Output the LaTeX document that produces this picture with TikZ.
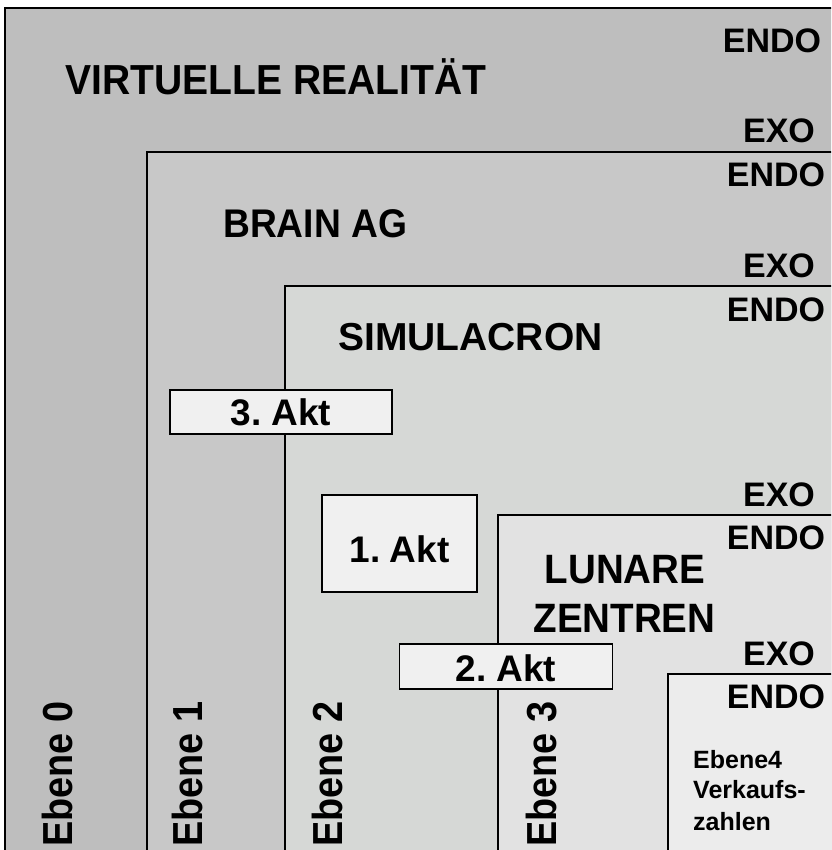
\documentclass[tikz,border=0pt]{standalone}
\usepackage{fontspec}
\setmainfont{Liberation Sans}[WordSpace=0.6]
\newfontfamily\nsA{Liberation Sans}[FakeStretch=0.93]
\newfontfamily\nsB{Liberation Sans}[FakeStretch=0.94]
\newfontfamily\nsC{Liberation Sans}[FakeStretch=0.90]
\definecolor{lvA}{HTML}{BEBEBE}
\definecolor{lvB}{HTML}{C8C8C8}
\definecolor{lvC}{HTML}{D6D8D6}
\definecolor{lvD}{HTML}{E2E2E2}
\definecolor{lvE}{HTML}{ECECEC}
\definecolor{aktfill}{HTML}{F0F0F0}
\tikzset{
  level/.style={draw=black, line width=1.5pt},
  lbl/.style={inner sep=0pt, anchor=base west, font=\bfseries},
  endoexo/.style={inner sep=0pt, anchor=base, font=\bfseries\fontsize{34}{34}\selectfont},
  ebenelbl/.style={inner sep=0pt, anchor=base west, rotate=90, font=\nsC\bfseries\fontsize{42}{42}\selectfont},
  aktbox/.style={draw=black, line width=1.5pt, fill=aktfill, inner sep=0pt,
    font=\bfseries\fontsize{37}{37}\selectfont, text depth=0pt, text height=26.5pt}
}
\begin{document}
\begin{tikzpicture}[x=1pt,y=-1pt]
\useasboundingbox (0,0) rectangle (831,850);
\fill[white] (0,0) rectangle (831,850);
\clip (0,0) rectangle (831,850);
% nested levels
\filldraw[level, fill=lvA] (5,8) rectangle (860,880);
\filldraw[level, fill=lvB] (147,152) rectangle (860,880);
\filldraw[level, fill=lvC] (285,286) rectangle (860,880);
\filldraw[level, fill=lvD] (498,515) rectangle (860,880);
\filldraw[level, fill=lvE] (668,674) rectangle (860,880);
% titles
\node[lbl, font=\nsA\bfseries\fontsize{42}{42}\selectfont] (t0) at (65,95) {VIRTUELLE REALITÄT};
\node[lbl, font=\nsA\bfseries\fontsize{40}{40}\selectfont] (t1) at (223,237) {BRAIN AG};
\node[lbl, font=\bfseries\fontsize{39}{39}\selectfont] (t2) at (338,350) {SIMULACRON};
\node[inner sep=0pt, anchor=base, font=\nsB\bfseries\fontsize{41}{41}\selectfont] (t3a) at (625,583) {LUNARE};
\node[inner sep=0pt, anchor=base, font=\nsB\bfseries\fontsize{41}{41}\selectfont] (t3b) at (624.5,632) {ZENTREN};
% ENDO / EXO
\node[endoexo] (en0) at (772,53) {ENDO};
\node[endoexo] (ex1) at (779,143) {EXO};
\node[endoexo] (en1) at (776,187) {ENDO};
\node[endoexo] (ex2) at (779,277) {EXO};
\node[endoexo] (en2) at (776,321) {ENDO};
\node[endoexo] (ex3) at (779,506) {EXO};
\node[endoexo] (en3) at (776,549) {ENDO};
\node[endoexo] (ex4) at (779,665) {EXO};
\node[endoexo] (en4) at (776,708) {ENDO};
% Ebene labels
\node[ebenelbl] (e0) at (72,847) {Ebene 0};
\node[ebenelbl] (e1) at (202,847) {Ebene 1};
\node[ebenelbl] (e2) at (342,847) {Ebene 2};
\node[ebenelbl] (e3) at (556,847) {Ebene 3};
% Ebene 4 text
\node[lbl, font=\bfseries\fontsize{25}{25}\selectfont] (e4a) at (693,768) {Ebene4};
\node[lbl, font=\bfseries\fontsize{25}{25}\selectfont] (e4b) at (693,798) {Verkaufs-};
\node[lbl, font=\bfseries\fontsize{25}{25}\selectfont] (e4c) at (693,830) {zahlen};
% Akt boxes
\node[aktbox, minimum width=222pt, minimum height=44pt] (akt3) at (281,412) {3. Akt};
\node[aktbox, minimum width=155pt, minimum height=97pt, text height=37pt] (akt1) at (399.5,543.5) {1. Akt};
\node[aktbox, minimum width=213pt, minimum height=45pt, text height=29pt] (akt2) at (506,666.5) {2. Akt};
\end{tikzpicture}
\end{document}
